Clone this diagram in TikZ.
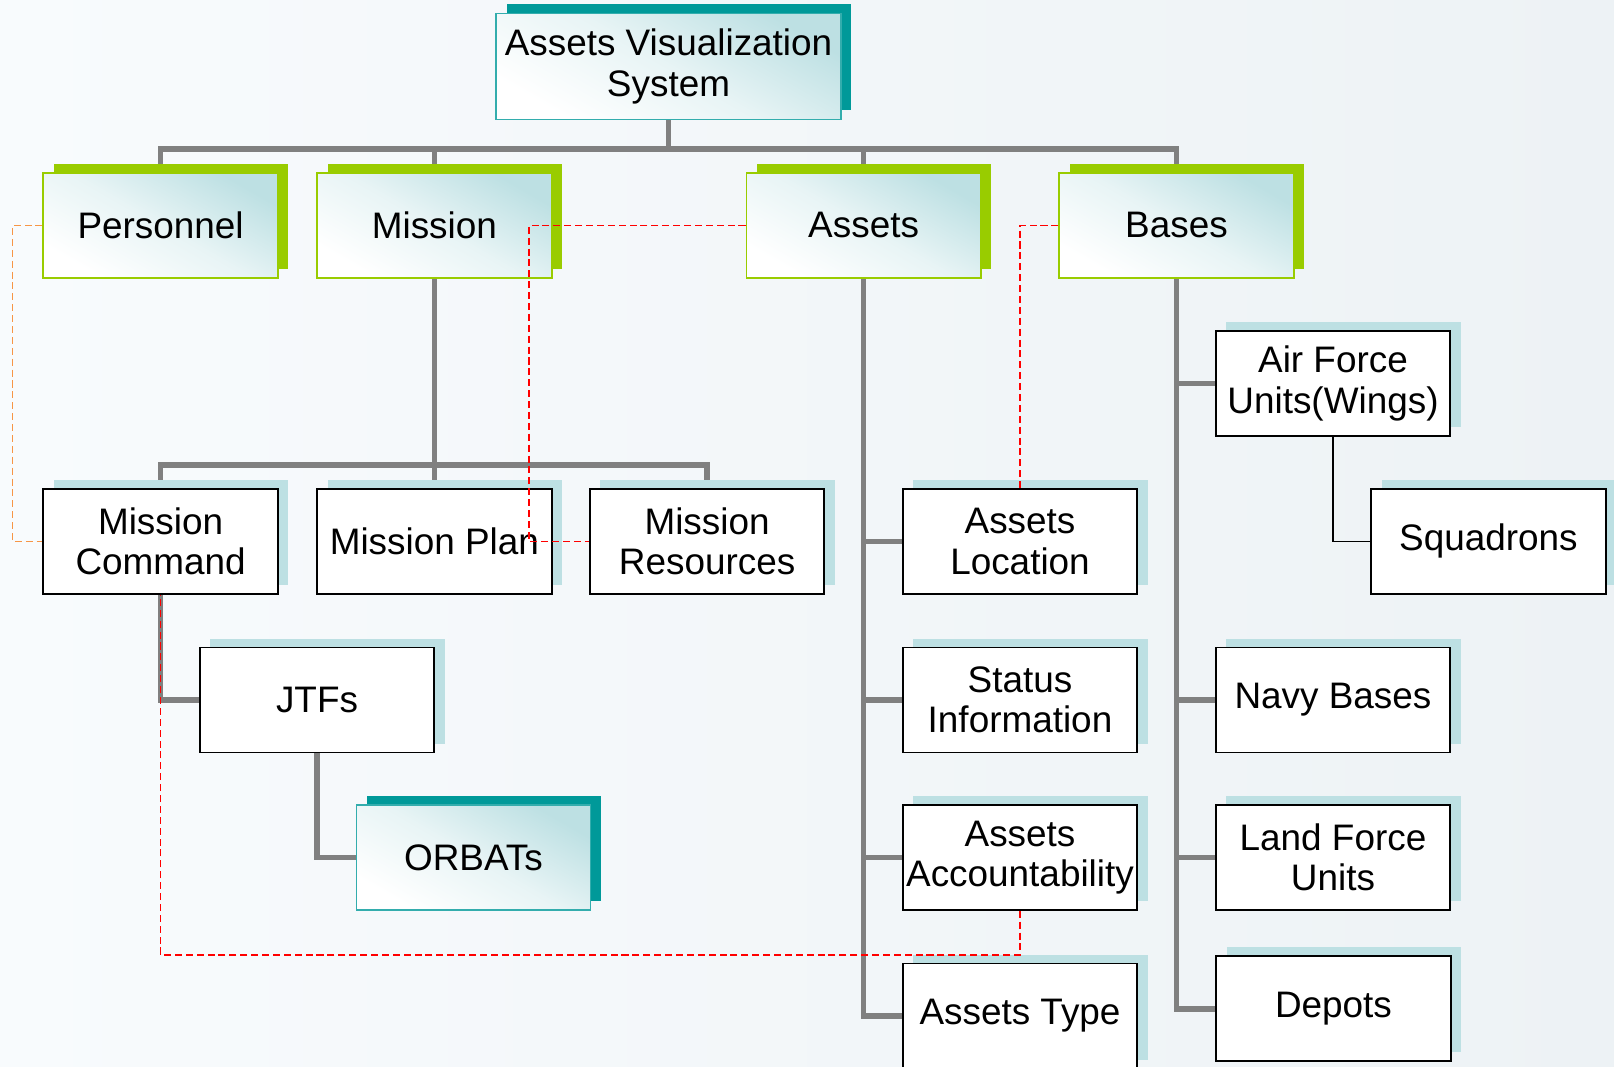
\documentclass[tikz,border=0pt]{standalone}
\usepackage{fontspec}
\setmainfont{Liberation Sans}
\usepackage{tikz}
\usepackage{xcolor}
\usetikzlibrary{shadows}
\usetikzlibrary{backgrounds}

\definecolor{lgreen}{HTML}{99CC00}
\definecolor{dteal}{HTML}{009999}
\definecolor{lteal}{HTML}{BDE0E3}
\definecolor{linkgray}{HTML}{808080}
\definecolor{dashorange}{HTML}{F79646}
\definecolor{bgleft}{HTML}{F8FBFD}
\definecolor{bgright}{HTML}{EDF2F5}

\begin{document}
\begin{tikzpicture}[x=0.02cm,y=-0.02cm,
        box/.style={rectangle,minimum width=4.69cm,minimum height=2.1cm,inner sep=0pt,align=center,
            font=\fontsize{21}{23}\selectfont},
        plainbox/.style={box,draw=black,line width=1pt,fill=white,
            general shadow={fill=lteal,shadow xshift=0.21cm,shadow yshift=0.18cm}},
        headbox/.style={box,draw=lgreen,line width=1pt,
            general shadow={fill=lgreen,shadow xshift=0.21cm,shadow yshift=0.18cm},
            top color=lteal,bottom color=white,middle color=lteal!35!white,shading angle=-30},
        tealbox/.style={box,draw=dteal!80,line width=0.8pt,
            general shadow={fill=dteal,shadow xshift=0.21cm,shadow yshift=0.18cm},
            top color=lteal,bottom color=white,middle color=lteal!35!white,shading angle=-30},
        link/.style={linkgray,line width=3.2pt},
        reddash/.style={red,line width=1pt,dash pattern=on 4pt off 2.2pt},
        orangedash/.style={dashorange,line width=1pt,dash pattern=on 4pt off 2.2pt}]
        \useasboundingbox (0,0) rectangle (1614,1066);

        \node[tealbox,minimum width=6.9cm,minimum height=2.12cm] (root) at (668.5,66.4) {Assets Visualization\\System};

        \node[headbox] (pers) at (160.6,225.4) {Personnel};
        \node[headbox] (miss) at (434.4,225.4) {Mission};
        \node[headbox] (assets) at (863.6,225.4) {Assets};
        \node[headbox] (bases) at (1176.5,225.4) {Bases};

        \node[plainbox] (mcmd) at (160.6,541.4) {Mission\\Command};
        \node[plainbox] (mplan) at (434.4,541.4) {Mission Plan};
        \node[plainbox] (mres) at (707.1,541.4) {Mission\\Resources};
        \node[plainbox] (jtf) at (317,700) {JTFs};
        \node[tealbox] (orb) at (473.5,857.4) {ORBATs};

        \node[plainbox] (aloc) at (1020,541.4) {Assets\\Location};
        \node[plainbox] (stat) at (1020,700) {Status\\Information};
        \node[plainbox] (aacc) at (1020,857.4) {Assets\\Accountability};
        \node[plainbox] (atyp) at (1020,1016) {Assets Type};

        \node[plainbox] (airf) at (1333,383.4) {Air Force\\Units(Wings)};
        \node[plainbox] (sqd) at (1488.4,541.4) {Squadrons};
        \node[plainbox] (navy) at (1333,700) {Navy Bases};
        \node[plainbox] (land) at (1333,857.4) {Land Force\\Units};
        \node[plainbox] (depot) at (1333.5,1008.7) {Depots};

        \coordinate (topbar) at (0,149.3);
        \coordinate (midbar) at (0,465.3);
        \coordinate (orangex) at (12.4,0);
        \coordinate (redx) at (529,0);
        \coordinate (lowy) at (0,955);

        \begin{scope}[on background layer]
            \shade[left color=bgleft,right color=bgright] (0,0) rectangle (1614,1066);
            \draw[link] (root.south) -- (root.south |- topbar);
            \draw[link] (pers.north) |- (bases.north |- topbar) -- (bases.north);
            \draw[link] (miss.north) -- (miss.north |- topbar);
            \draw[link] (assets.north) -- (assets.north |- topbar);
            \draw[link] (miss.south) -- (mplan.north);
            \draw[link] (mcmd.north) |- (mres.north |- midbar) -- (mres.north);
            \draw[link] (mcmd.south) |- (jtf.west);
            \draw[link] (jtf.south) |- (orb.west);
            \foreach \n in {aloc,stat,aacc,atyp}
                \draw[link] (assets.south) |- (\n.west);
            \foreach \n in {airf,navy,land,depot}
                \draw[link] (bases.south) |- (\n.west);
            \draw[black,line width=0.9pt] (airf.south) |- (sqd.west);
        \end{scope}

        \draw[orangedash] (pers.west) -- (pers.west -| orangex) |- (mcmd.west);
        \draw[reddash] (assets.west) -- (assets.west -| redx) |- (mres.west);
        \draw[reddash] (bases.west) -| (aloc.north);
        \draw[reddash] (aacc.south) -- (aacc.south |- lowy) -| (mcmd.south);
    \end{tikzpicture}
\end{document}
